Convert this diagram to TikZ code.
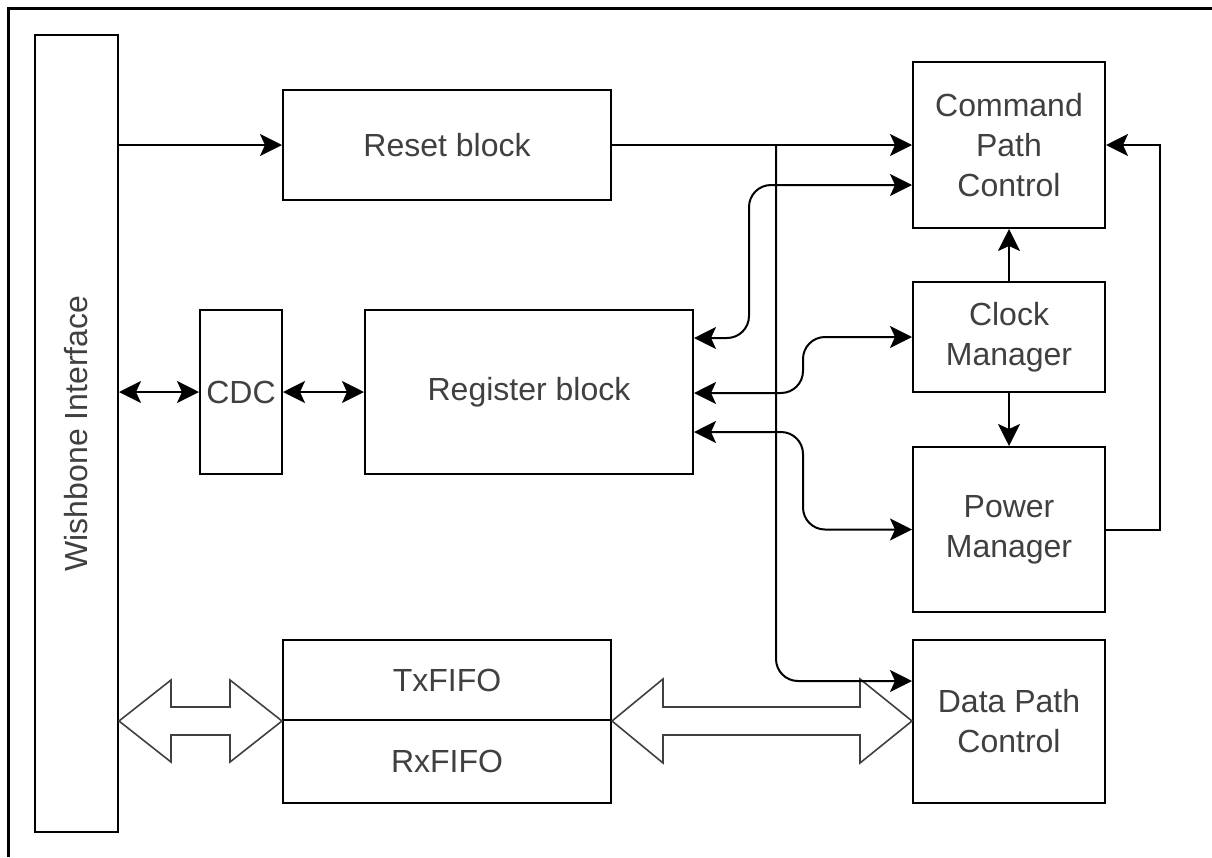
\documentclass[tikz,border=0pt]{standalone}
\usepackage{fontspec}
\setmainfont{Liberation Sans}
\usetikzlibrary{arrows.meta}
\definecolor{txtgray}{RGB}{64,64,64}
\begin{document}
\begin{tikzpicture}[x=1pt,y=-1pt,
  >={Stealth[length=22pt,width=22pt,inset=5pt]},
  box/.style={draw=black, line width=2pt, fill=white, inner sep=0pt,
    text=txtgray, align=center, font=\fontsize{32}{40}\selectfont},
  wire/.style={line width=2pt, black},
  fat/.style={draw=black!75, line width=1.6pt, fill=white, line join=miter}]
\useasboundingbox (0,0) rectangle (1212,857);
% outer frame
\draw[line width=3pt] (8,857) -- (8,8) -- (1212,8);

% blocks
\node[box, minimum width=83pt, minimum height=797pt] (wb) at (76.5,433.5)
  {\rotatebox{90}{Wishbone Interface}};
\node[box, minimum width=328pt, minimum height=110pt] (reset) at (447,145) {Reset block};
\node[box, minimum width=192pt, minimum height=166pt] (cpc) at (1009,145) {Command\\Path\\Control};
\node[box, minimum width=82pt, minimum height=164pt] (cdc) at (241,392) {CDC};
\node[box, minimum width=328pt, minimum height=164pt] (reg) at (529,392) {Register block};
\node[box, minimum width=192pt, minimum height=110pt] (clk) at (1009,337) {Clock\\Manager};
\node[box, minimum width=192pt, minimum height=165pt] (pwr) at (1009,529.5) {Power\\Manager};
\node[box, minimum width=328pt, minimum height=80pt] (tx) at (447,680) {TxFIFO};
\node[box, minimum width=328pt, minimum height=83pt] (rx) at (447,761.5) {RxFIFO};
\node[box, minimum width=192pt, minimum height=163pt] (dpc) at (1009,721.5) {Data Path\\Control};

% wide data buses
\draw[fat] (wb.east |- 0,721) -- (171,680) -- (171,707) -- (230,707) -- (230,680)
  -- (tx.south west) -- (230,762) -- (230,735) -- (171,735) -- (171,762) -- cycle;
\draw[fat] (tx.south east) -- (663,679) -- (663,707) -- (860,707) -- (860,679)
  -- (dpc.west |- 0,721) -- (860,763) -- (860,735) -- (663,735) -- (663,763) -- cycle;

% control connections
\coordinate (split) at (776,145);
\draw[wire, ->] (wb.east |- reset.west) -- (reset.west);
\draw[wire, ->] (reset.east) -- (cpc.west);
\draw[wire, ->, rounded corners=22pt] (split) -- (776,681) -- (dpc.west |- 0,681);
\draw[wire, <->, rounded corners=22pt] (reg.east |- 0,338) -- (749,338) -- (749,185) -- (cpc.west |- 0,185);
\draw[wire, <->, rounded corners=22pt] (reg.east |- 0,393) -- (803,393) -- (803,337) -- (clk.west);
\draw[wire, <->, rounded corners=22pt] (reg.east |- 0,432) -- (803,432) -- (803,529.5) -- (pwr.west);
\draw[wire, ->] (clk.north) -- (cpc.south);
\draw[wire, ->] (clk.south) -- (pwr.north);
\draw[wire, ->] (pwr.east) -- (1160,529.5) -- (1160,145) -- (cpc.east);
\draw[wire, <->] (wb.east |- cdc.west) -- (cdc.west);
\draw[wire, <->] (cdc.east) -- (reg.west);
\end{tikzpicture}
\end{document}
